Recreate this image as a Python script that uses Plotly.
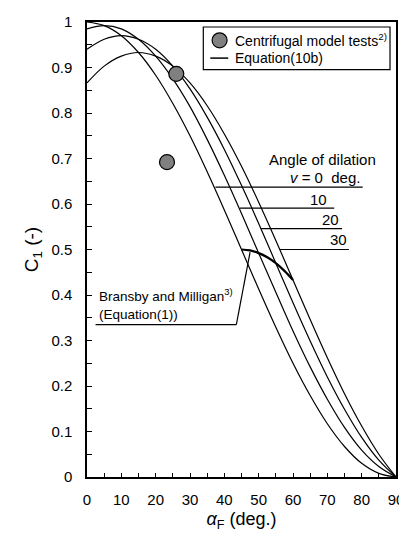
import plotly.graph_objects as go

# ---- data ----
alpha = [0, 5, 10, 15, 20, 25, 30, 35, 40, 45, 50, 55, 60, 65, 70, 75, 80, 85, 90]
c1_v0 = [1.000, 0.992, 0.970, 0.933, 0.883, 0.821, 0.750, 0.671, 0.587, 0.500,
         0.413, 0.329, 0.250, 0.179, 0.117, 0.067, 0.030, 0.008, 0.0]
c1_v10 = [0.985, 0.992, 0.985, 0.962, 0.925, 0.875, 0.814, 0.742, 0.663, 0.579,
          0.492, 0.406, 0.321, 0.242, 0.171, 0.109, 0.059, 0.023, 0.0]
c1_v20 = [0.940, 0.962, 0.970, 0.962, 0.940, 0.903, 0.853, 0.791, 0.720, 0.641,
          0.557, 0.470, 0.383, 0.299, 0.220, 0.149, 0.087, 0.037, 0.0]
c1_v30 = [0.866, 0.903, 0.925, 0.933, 0.925, 0.903, 0.866, 0.816, 0.754, 0.683,
          0.604, 0.520, 0.433, 0.346, 0.262, 0.183, 0.112, 0.050, 0.0]
bm_alpha = [45, 47.5, 50, 52.5, 55, 57.5, 60]
bm_c1 = [0.500, 0.498, 0.492, 0.483, 0.470, 0.453, 0.433]
test_alpha = [26.0, 23.3]
test_c1 = [0.886, 0.692]
dilation_labels = ["<i>v</i> = 0  deg.", "10", "20", "30"]
legend_labels = ["Centrifugal model tests<sup>2)</sup>", "Equation(10b)"]

FONT = "Arial, Liberation Sans, sans-serif"
PAGE_OFFSET = 8  # default body margin of the html page
W, H = 407 - PAGE_OFFSET, 536 - PAGE_OFFSET
ML, MR, MT, MB = 86.5 - PAGE_OFFSET, 11, 21.7 - PAGE_OFFSET, 59.3
PW, PH = W - ML - MR, H - MT - MB


def px(xp):  # window pixel x -> paper
    return (xp - PAGE_OFFSET - ML) / PW


def py(yp):  # window pixel y -> paper
    return 1 - (yp - PAGE_OFFSET - MT) / PH


fig = go.Figure()

for c in [c1_v0, c1_v10, c1_v20, c1_v30]:
    fig.add_trace(go.Scatter(x=alpha, y=c, mode="lines",
                             line=dict(color="black", width=1.2, shape="spline"), showlegend=False))

fig.add_trace(go.Scatter(x=bm_alpha, y=bm_c1, mode="lines",
                         line=dict(color="black", width=2.2, shape="spline"), showlegend=False))

fig.add_trace(go.Scatter(x=test_alpha, y=test_c1, mode="markers",
                         marker=dict(size=15, color="#808080", line=dict(color="black", width=1.2)),
                         showlegend=False))

# leader lines for dilation labels (y, x_start, x_end)
leaders = [(0.637, 37.4, 80.3), (0.591, 44.5, 72.0), (0.546, 50.7, 74.3), (0.500, 56.2, 76.3)]
for (yy, x0, x1) in leaders:
    fig.add_shape(type="line", x0=x0, x1=x1, y0=yy, y1=yy, xref="x", yref="y",
                  line=dict(color="black", width=1.2))

label_pos = [(80.0, 0.658), (67.5, 0.610), (70.8, 0.566), (73.3, 0.522)]
for txt, (xx, yy) in zip(dilation_labels, label_pos):
    fig.add_annotation(x=xx, y=yy, xref="x", yref="y", text=txt, showarrow=False,
                       xanchor="right" if txt.startswith("<i>") else "center", yanchor="middle",
                       font=dict(family=FONT, size=15, color="black"))
fig.add_annotation(x=68.7, y=0.698, xref="x", yref="y", text="Angle of dilation", showarrow=False,
                   xanchor="center", yanchor="middle", font=dict(family=FONT, size=15, color="black"))

# Bransby and Milligan leader
fig.add_shape(type="line", x0=2.5, x1=43.5, y0=0.335, y1=0.335, xref="x", yref="y",
              line=dict(color="black", width=1.2))
fig.add_shape(type="line", x0=43.5, x1=47.5, y0=0.335, y1=0.494, xref="x", yref="y",
              line=dict(color="black", width=1.2))
fig.add_annotation(x=2.9, y=0.399, xref="x", yref="y", text="Bransby and Milligan<sup>3)</sup>",
                   showarrow=False, xanchor="left", yanchor="middle",
                   font=dict(family=FONT, size=13.5, color="black"))
fig.add_annotation(x=2.9, y=0.358, xref="x", yref="y", text="(Equation(1))",
                   showarrow=False, xanchor="left", yanchor="middle",
                   font=dict(family=FONT, size=13.5, color="black"))

# legend box (drawn by hand)
fig.add_shape(type="rect", xref="paper", yref="paper", x0=px(203), x1=px(390), y0=py(69.3), y1=py(26.7),
              line=dict(color="black", width=1.2), fillcolor="white", layer="above")
fig.add_shape(type="circle", xref="paper", yref="paper", xsizemode="pixel", ysizemode="pixel",
              xanchor=px(219.3), yanchor=py(40), x0=-7.5, x1=7.5, y0=-7.5, y1=7.5,
              line=dict(color="black", width=1.2), fillcolor="#808080", layer="above")
fig.add_shape(type="line", xref="paper", yref="paper", x0=px(210), x1=px(228), y0=py(57.8), y1=py(57.8),
              line=dict(color="black", width=1.5), layer="above")
for txt, yy in zip(legend_labels, [40, 58]):
    fig.add_annotation(x=px(233), y=py(yy), xref="paper", yref="paper", text=txt, showarrow=False,
                       xanchor="left", yanchor="middle", font=dict(family=FONT, size=14, color="black"))

axis_common = dict(showline=True, linecolor="black", linewidth=1.5, mirror=True,
                   showgrid=False, zeroline=False, ticks="inside", tickcolor="black",
                   automargin=False,
                   tickfont=dict(family=FONT, size=15, color="black"))

fig.update_xaxes(range=[0, 90], tickvals=[0, 10, 20, 30, 40, 50, 60, 70, 80, 90], ticklen=4,
                 minor=dict(dtick=5, ticks="inside", ticklen=4, tickcolor="black"),
                 ticklabelstandoff=8,
                 title=dict(text="<i>α</i><sub>F</sub> (deg.)", font=dict(family=FONT, size=18, color="black"),
                            standoff=6),
                 **axis_common)
fig.update_yaxes(range=[0, 1], dtick=0.1, ticklen=5, tickformat="~g",
                 minor=dict(dtick=0.05, ticks="inside", ticklen=5, tickcolor="black"),
                 ticklabelstandoff=10,
                 title=dict(text="C<sub>1</sub> (-)", font=dict(family=FONT, size=19, color="black"),
                            standoff=8),
                 **axis_common)

fig.update_layout(
    width=W, height=H,
    margin=dict(l=ML, r=MR, t=MT, b=MB),
    plot_bgcolor="white", paper_bgcolor="white",
    font=dict(family=FONT, color="black"),
    showlegend=False,
)

fig.write_html("out.html")
